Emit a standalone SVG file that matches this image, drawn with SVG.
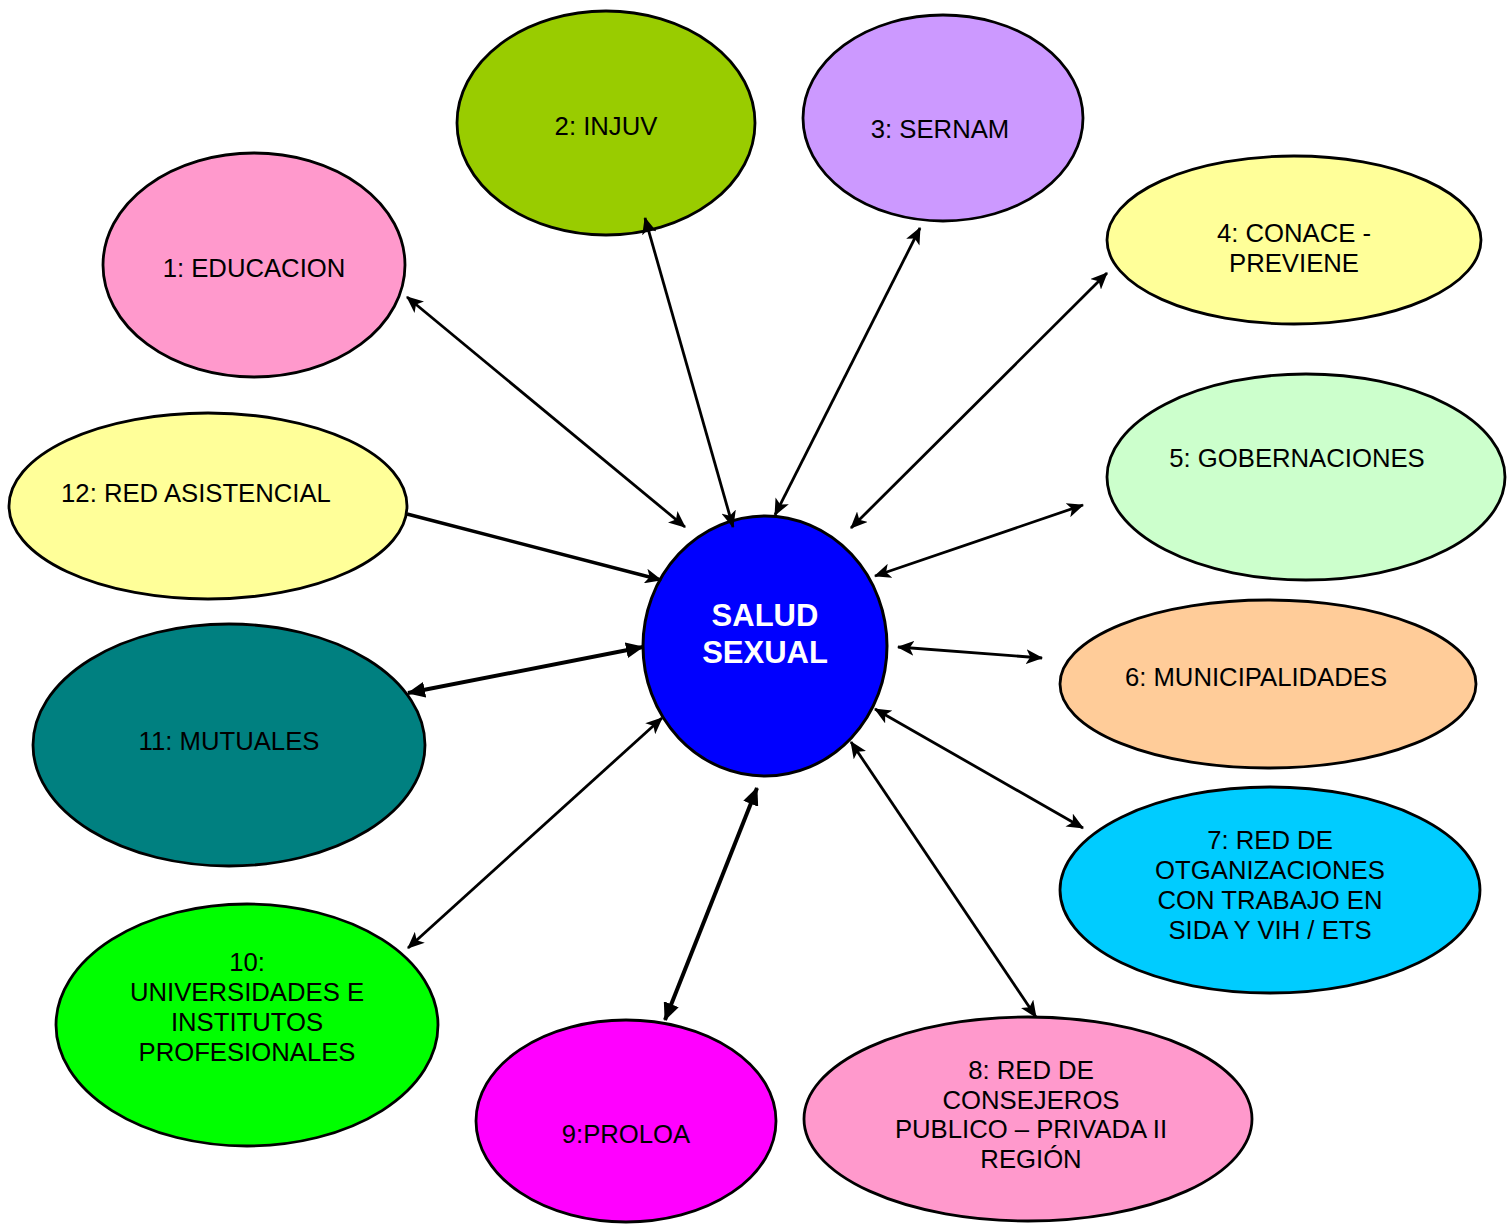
<svg xmlns="http://www.w3.org/2000/svg" width="1511" height="1225" viewBox="0 0 1511 1225">
<defs>
<style>
.n{stroke:#000;stroke-width:2.8}
.t{font-family:"Liberation Sans",Arial,sans-serif;font-size:25.7px;fill:#000;text-anchor:middle}
.c{stroke:#000;stroke-width:2.8;fill:none;marker-start:url(#st);marker-end:url(#st)}
.k{stroke:#000;stroke-width:4;fill:none;marker-start:url(#tr);marker-end:url(#tr)}
</style>
<marker id="st" viewBox="0 0 16 14" refX="15" refY="7" markerWidth="17" markerHeight="15" markerUnits="userSpaceOnUse" orient="auto-start-reverse">
<path d="M0,0 L16,7 L0,14 L4,7 z" fill="#000"/>
</marker>
<marker id="tr" viewBox="0 0 18 16" refX="17" refY="8" markerWidth="18" markerHeight="16" markerUnits="userSpaceOnUse" orient="auto-start-reverse">
<path d="M0,0 L18,8 L0,16 z" fill="#000"/>
</marker>
</defs>
<rect width="1511" height="1225" fill="#fff"/>
<g id="n1"><ellipse class="n" cx="254" cy="265" rx="151" ry="112" fill="#FF99CC"/><text class="t" x="254" y="277">1: EDUCACION</text></g>
<g id="n2"><ellipse class="n" cx="606" cy="123" rx="149" ry="112" fill="#99CC00"/><text class="t" x="606" y="135">2: INJUV</text></g>
<g id="n3"><ellipse class="n" cx="943" cy="118" rx="140" ry="103" fill="#CC99FF"/><text class="t" x="940" y="138">3: SERNAM</text></g>
<g id="n4"><ellipse class="n" cx="1294" cy="240" rx="187" ry="84" fill="#FFFF99"/><text class="t" x="1294" y="242">4: CONACE -</text><text class="t" x="1294" y="272">PREVIENE</text></g>
<g id="n5"><ellipse class="n" cx="1306" cy="477" rx="199" ry="103" fill="#CCFFCC"/><text class="t" x="1297" y="467">5: GOBERNACIONES</text></g>
<g id="n6"><ellipse class="n" cx="1268" cy="684" rx="208" ry="84" fill="#FFCC99"/><text class="t" x="1256" y="686">6: MUNICIPALIDADES</text></g>
<g id="n7"><ellipse class="n" cx="1270" cy="890" rx="210" ry="103" fill="#00CCFF"/><text class="t" x="1270" y="849">7: RED DE</text><text class="t" x="1270" y="879">OTGANIZACIONES</text><text class="t" x="1270" y="909">CON TRABAJO EN</text><text class="t" x="1270" y="939">SIDA Y VIH / ETS</text></g>
<g id="n8"><ellipse class="n" cx="1028" cy="1119" rx="224" ry="102" fill="#FF99CC"/><text class="t" x="1031" y="1079">8: RED DE</text><text class="t" x="1031" y="1109">CONSEJEROS</text><text class="t" x="1031" y="1138">PUBLICO – PRIVADA II</text><text class="t" x="1031" y="1168">REGIÓN</text></g>
<g id="n9"><ellipse class="n" cx="626" cy="1121" rx="150" ry="101" fill="#FF00FF"/><text class="t" x="626" y="1143">9:PROLOA</text></g>
<g id="n10"><ellipse class="n" cx="247" cy="1025" rx="191" ry="121" fill="#00FF00"/><text class="t" x="247" y="971">10:</text><text class="t" x="247" y="1001">UNIVERSIDADES E</text><text class="t" x="247" y="1031">INSTITUTOS</text><text class="t" x="247" y="1061">PROFESIONALES</text></g>
<g id="n11"><ellipse class="n" cx="229" cy="745" rx="196" ry="121" fill="#008080"/><text class="t" x="229" y="750">11: MUTUALES</text></g>
<g id="n12"><ellipse class="n" cx="208" cy="506" rx="199" ry="93" fill="#FFFF99"/><text class="t" x="196" y="502">12: RED ASISTENCIAL</text></g>
<g id="center"><ellipse cx="765" cy="646" rx="122" ry="130" fill="#0000FF" stroke="#000" stroke-width="3"/><text x="765" y="626" font-family="'Liberation Sans',Arial,sans-serif" font-size="31" font-weight="bold" fill="#fff" text-anchor="middle">SALUD</text><text x="765" y="663" font-family="'Liberation Sans',Arial,sans-serif" font-size="31" font-weight="bold" fill="#fff" text-anchor="middle">SEXUAL</text></g>
<g id="connectors">
<line class="c" x1="407" y1="297" x2="685" y2="527"/>
<line class="c" x1="645" y1="218" x2="733" y2="527"/>
<line class="c" x1="920" y1="228" x2="775" y2="515"/>
<line class="c" x1="1107" y1="273" x2="851" y2="528"/>
<line class="c" x1="1083" y1="505" x2="875" y2="576"/>
<line class="c" x1="1042" y1="658" x2="898" y2="647"/>
<line class="c" x1="1083" y1="828" x2="875" y2="709"/>
<line class="c" x1="1036" y1="1017" x2="851" y2="742"/>
<line class="k" x1="665" y1="1020" x2="757" y2="788"/>
<line class="c" x1="408" y1="948" x2="662" y2="718" stroke-width="3.3"/>
<line class="k" x1="408" y1="693" x2="643" y2="647"/>
<line x1="407" y1="514" x2="661" y2="580" stroke="#000" stroke-width="3.4" marker-end="url(#st)"/>
</g>
</svg>
